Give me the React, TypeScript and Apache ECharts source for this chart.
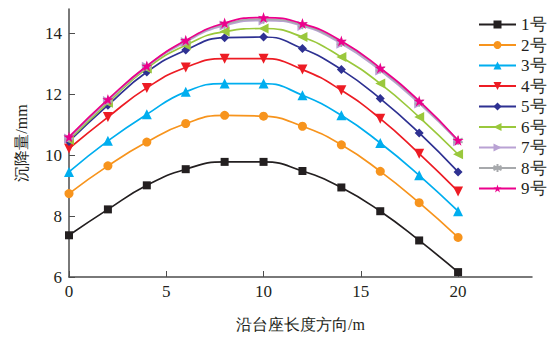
import React, { useEffect, useRef } from "react";
import * as echarts from "echarts";

// Position along the pedestal (m)
const positions = [0, 2, 4, 6, 8, 10, 12, 14, 16, 18, 20];

// Settlement (mm) per measuring line
const s1 = [7.37, 8.22, 9.01, 9.54, 9.78, 9.78, 9.48, 8.94, 8.16, 7.2, 6.16];
const s2 = [8.74, 9.65, 10.43, 11.04, 11.31, 11.28, 10.95, 10.34, 9.47, 8.44, 7.3];
const s3 = [9.45, 10.47, 11.34, 12.08, 12.35, 12.35, 11.97, 11.31, 10.4, 9.34, 8.16];
const s4 = [10.22, 11.25, 12.21, 12.88, 13.17, 13.17, 12.81, 12.13, 11.2, 10.05, 8.81];
const s5 = [10.45, 11.64, 12.73, 13.45, 13.86, 13.88, 13.5, 12.81, 11.86, 10.73, 9.45];
const s6 = [10.5, 11.72, 12.85, 13.61, 14.06, 14.16, 13.88, 13.22, 12.35, 11.25, 10.03];
const s7 = [10.55, 11.78, 12.9, 13.72, 14.26, 14.42, 14.24, 13.66, 12.78, 11.7, 10.46];
const s8 = [10.57, 11.8, 12.92, 13.75, 14.3, 14.46, 14.28, 13.7, 12.83, 11.74, 10.48];
const s9 = [10.6, 11.83, 12.93, 13.77, 14.34, 14.52, 14.32, 13.75, 12.86, 11.78, 10.49];

const seriesNames = ["1号", "2号", "3号", "4号", "5号", "6号", "7号", "8号", "9号"];
const seriesData = [s1, s2, s3, s4, s5, s6, s7, s8, s9];
const colors = [
  "#231f20",
  "#f7941d",
  "#00aeef",
  "#ed1c24",
  "#2e3192",
  "#9ac83c",
  "#b9a2d4",
  "#a7a9ac",
  "#ec008c",
];

const xTicks = [0, 5, 10, 15, 20];

const STAR =
  "path://M0,-1L0.2245,-0.309L0.951,-0.309L0.363,0.118L0.588,0.809L0,0.382L-0.588,0.809L-0.363,0.118L-0.951,-0.309L-0.2245,-0.309Z";
const ASTERISK = "path://M0,-1L0,1M-0.87,-0.5L0.87,0.5M-0.87,0.5L0.87,-0.5";

const markers: { symbol: string; rotate: number; size: number }[] = [
  { symbol: "rect", rotate: 0, size: 8 },
  { symbol: "circle", rotate: 0, size: 9 },
  { symbol: "triangle", rotate: 0, size: 10 },
  { symbol: "triangle", rotate: 180, size: 10 },
  { symbol: "diamond", rotate: 0, size: 9 },
  { symbol: "triangle", rotate: 90, size: 10 },
  { symbol: "triangle", rotate: -90, size: 10 },
  { symbol: ASTERISK, rotate: 0, size: 9 },
  { symbol: STAR, rotate: 0, size: 11 },
];

const FONT = "Liberation Serif, serif";

export default function App() {
  const ref = useRef<HTMLDivElement>(null);

  useEffect(() => {
    if (!ref.current) return;
    const chart = echarts.init(ref.current, null, { renderer: "svg" });

    const series = seriesData.map((vals, i) => ({
      name: seriesNames[i],
      type: "line",
      smooth: true,
      data: vals.map((v, j) => [positions[j], v]),
      symbol: markers[i].symbol,
      symbolSize: markers[i].size,
      symbolRotate: markers[i].rotate,
      showAllSymbol: true,
      lineStyle: { color: colors[i], width: 1.7 },
      itemStyle:
        i === 7
          ? { color: colors[i], borderColor: colors[i], borderWidth: 1.6 }
          : { color: colors[i] },
      z: 2 + i,
    }));

    chart.setOption({
      animation: false,
      backgroundColor: "#ffffff",
      textStyle: { fontFamily: FONT },
      grid: { left: 69, right: 17, top: 9, bottom: 60, containLabel: false },
      legend: {
        orient: "vertical",
        left: 473,
        top: 11,
        itemWidth: 37,
        itemHeight: 10,
        itemGap: 3.5,
        textStyle: { fontFamily: FONT, fontSize: 17, color: "#231f20" },
        data: seriesNames,
      },
      xAxis: {
        type: "value",
        min: 0,
        max: 23.8,
        interval: 5,
        name: "沿台座长度方向/m",
        nameLocation: "middle",
        nameGap: 39,
        nameTextStyle: { fontFamily: FONT, fontSize: 16, color: "#231f20" },
        axisLine: { show: true, lineStyle: { color: "#4d4d4d", width: 1.5 } },
        axisTick: {
          show: true,
          inside: true,
          length: 6,
          customValues: xTicks,
          lineStyle: { color: "#4d4d4d", width: 1 },
        },
        axisLabel: {
          customValues: xTicks,
          margin: 6,
          fontFamily: FONT,
          fontSize: 17,
          color: "#231f20",
        },
        splitLine: { show: false },
      },
      yAxis: {
        type: "value",
        min: 6,
        max: 14.8,
        interval: 2,
        name: "沉降量/mm",
        nameLocation: "middle",
        nameGap: 40,
        nameTextStyle: { fontFamily: FONT, fontSize: 16, color: "#231f20" },
        axisLine: { show: true, lineStyle: { color: "#4d4d4d", width: 1.5 } },
        axisTick: {
          show: true,
          inside: true,
          length: 6,
          lineStyle: { color: "#4d4d4d", width: 1 },
        },
        axisLabel: {
          margin: 7,
          fontFamily: FONT,
          fontSize: 17,
          color: "#231f20",
          showMaxLabel: false,
        },
        splitLine: { show: false },
      },
      series,
    });

    return () => chart.dispose();
  }, []);

  return (
    <div
      ref={ref}
      style={{ position: "fixed", left: 0, top: 0, width: 549, height: 337 }}
    />
  );
}
